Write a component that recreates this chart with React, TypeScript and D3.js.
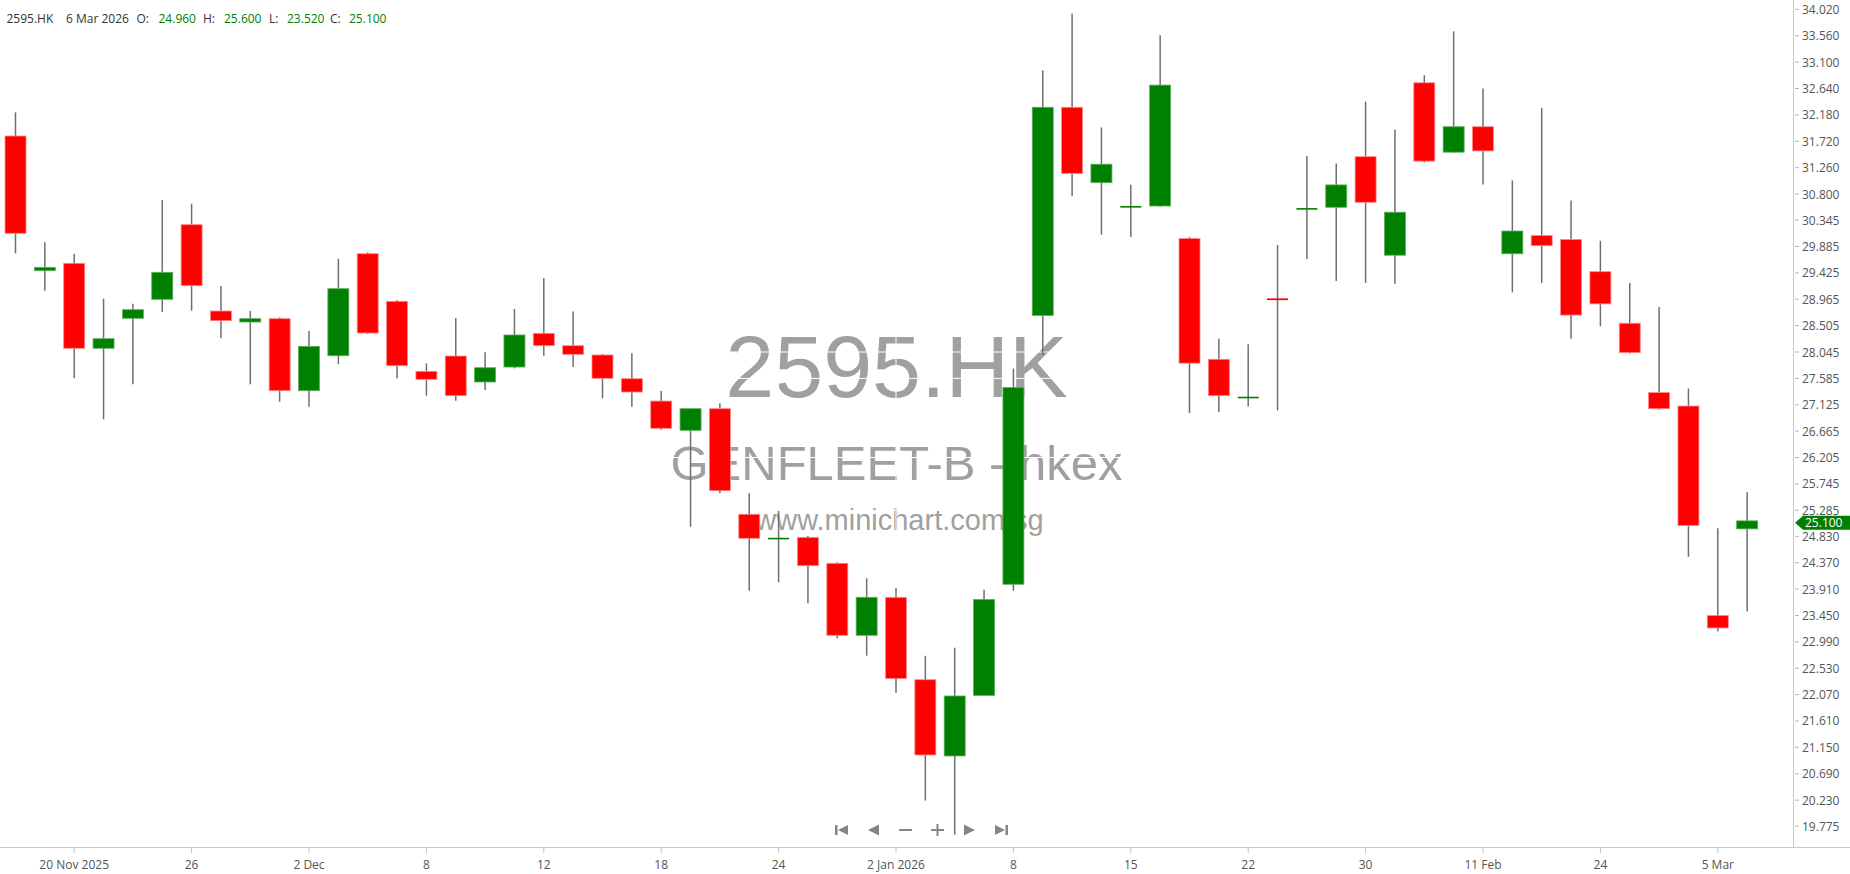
import React from "react";
import * as d3 from "d3";

const W = 1850;
const H = 874;

// OHLC per bar (index 0..59)
const opens = [
  31.812, 29.463, 29.592, 28.11, 28.633, 28.964, 30.265, 28.76, 28.568, 28.626,
  27.37, 27.98, 29.759, 28.929, 27.708, 27.975, 27.522, 27.783, 28.371, 28.155,
  27.993, 27.579, 27.19, 26.679, 27.056, 25.215, 24.795, 24.813, 24.36, 23.104,
  23.767, 22.33, 21.0, 22.056, 23.994, 28.683, 32.313, 30.998, 30.58, 30.591,
  30.024, 27.918, 27.255, 28.98, 30.545, 30.569, 31.451, 29.733, 32.74, 31.53,
  31.974, 29.758, 30.077, 30.007, 29.446, 28.547, 27.337, 27.103, 23.45, 24.96,
];
const highs = [
  32.225, 29.958, 29.759, 28.975, 28.887, 30.696, 30.631, 29.196, 28.76, 28.65,
  28.411, 29.672, 29.784, 28.952, 27.848, 28.638, 28.04, 28.795, 29.336, 28.751,
  28.01, 28.022, 27.365, 27.06, 27.15, 25.581, 25.272, 24.836, 24.377, 24.098,
  23.929, 22.747, 22.888, 23.9, 27.756, 32.954, 33.947, 31.962, 30.961, 33.57,
  30.052, 28.275, 28.181, 29.911, 31.462, 31.334, 32.412, 31.927, 32.872, 33.638,
  32.639, 31.038, 32.302, 30.687, 29.984, 29.25, 28.828, 27.409, 24.972, 25.6,
];
const lows = [
  29.766, 29.114, 27.586, 26.871, 27.482, 28.743, 28.765, 28.284, 27.482, 27.178,
  27.091, 27.831, 28.36, 27.586, 27.283, 27.196, 27.382, 27.76, 27.98, 27.783,
  27.238, 27.091, 26.685, 24.998, 25.581, 23.882, 24.029, 23.662, 23.052, 22.749,
  22.103, 20.223, 19.627, 22.04, 23.88, 27.993, 30.762, 30.091, 30.052, 30.58,
  26.981, 27.0, 27.095, 27.028, 29.665, 29.282, 29.25, 29.235, 31.35, 31.52,
  30.968, 29.086, 29.25, 28.274, 28.493, 28.02, 27.04, 24.472, 23.176, 23.52,
];
const closes = [
  30.115, 29.522, 28.11, 28.277, 28.783, 29.435, 29.201, 28.591, 28.626, 27.37,
  28.144, 29.149, 28.376, 27.806, 27.569, 27.283, 27.771, 28.342, 28.155, 28.005,
  27.586, 27.347, 26.714, 27.056, 25.626, 24.796, 24.805, 24.318, 23.104, 23.767,
  22.349, 21.017, 22.046, 23.729, 27.426, 32.313, 31.16, 31.32, 30.591, 32.7,
  27.851, 27.283, 27.265, 28.95, 30.555, 30.959, 30.656, 30.483, 31.374, 31.974,
  31.552, 30.155, 29.899, 28.689, 28.884, 28.033, 27.056, 25.019, 23.232, 25.1,
];

const yTickLabels = [
  "34.020", "33.560", "33.100", "32.640", "32.180", "31.720", "31.260", "30.800",
  "30.345", "29.885", "29.425", "28.965", "28.505", "28.045", "27.585", "27.125",
  "26.665", "26.205", "25.745", "25.285", "24.830", "24.370", "23.910", "23.450",
  "22.990", "22.530", "22.070", "21.610", "21.150", "20.690", "20.230", "19.775",
];

const xTickIndex = [2, 6, 10, 14, 18, 22, 26, 30, 34, 38, 42, 46, 50, 54, 58];
const xTickLabels = [
  "20 Nov 2025", "26", "2 Dec", "8", "12", "18", "24", "2 Jan 2026",
  "8", "15", "22", "30", "11 Feb", "24", "5 Mar",
];

const symbol = "2595.HK";
const fullName = "GENFLEET-B - hkex";
const site = "www.minichart.com.sg";
const lastDate = "6 Mar 2026";

const UP = "#008000";
const DOWN = "#ff0000";
const FONT = "'Open Sans', 'Noto Sans', sans-serif";

export default function App() {
  const n = opens.length;
  const plotRight = 1793;
  const axisY = 847;
  const x = d3.scaleLinear().domain([0, n - 1]).range([15.5, 15.5 + (n - 1) * 29.35]);
  const y = d3.scaleLinear().domain([34.02, 19.775]).range([9.4, 826.2]);
  const bodyW = 21;
  const cx = plotRight / 2;

  const last = n - 1;
  const lastUp = closes[last] >= opens[last];
  const lastY = y(closes[last]) + 2;

  const navY = 830;
  const navColor = "#858585";

  const header: [string, number, boolean][] = [
    [symbol, 6.5, false],
    [lastDate, 66, false],
    ["O:", 136.5, false],
    [opens[last].toFixed(3), 158.5, true],
    ["H:", 203, false],
    [highs[last].toFixed(3), 224, true],
    ["L:", 269, false],
    [lows[last].toFixed(3), 287, true],
    ["C:", 330, false],
    [closes[last].toFixed(3), 349, true],
  ];

  return (
    <svg
      width={W}
      height={H}
      style={{ position: "absolute", left: 0, top: 0, display: "block", background: "#fff" }}
    >
      <rect x={0} y={0} width={W} height={H} fill="#fff" />

      {/* watermark */}
      <g fill="#a0a0a0" fontFamily="'Liberation Sans', Arial, sans-serif" textAnchor="middle">
        <text x={cx} y={396.5} fontSize={88}>{symbol}</text>
        <text x={cx} y={480} fontSize={49}>{fullName}</text>
        <text x={cx + 3} y={530} fontSize={29}>{site}</text>
      </g>

      {/* white grid over watermark */}
      <g stroke="#ffffff" strokeWidth={1}>
        {yTickLabels.map((t, i) => (
          <line key={"gy" + i} x1={0} x2={plotRight} y1={y(+t)} y2={y(+t)} />
        ))}
        {xTickIndex.map((ti, i) => (
          <line key={"gx" + i} x1={x(ti)} x2={x(ti)} y1={0} y2={axisY} />
        ))}
      </g>

      {/* candles */}
      <g>
        {opens.map((o, i) => {
          const c = closes[i];
          const up = c >= o;
          const col = up ? UP : DOWN;
          const top = y(Math.max(o, c));
          const bot = y(Math.min(o, c));
          const h = Math.max(bot - top, 1.6);
          return (
            <g key={"c" + i}>
              <line
                x1={x(i)}
                x2={x(i)}
                y1={y(highs[i])}
                y2={y(lows[i])}
                stroke="#6f6f6f"
                strokeWidth={1.5}
              />
              <rect
                x={x(i) - bodyW / 2}
                y={top}
                width={bodyW}
                height={h}
                fill={col}
                stroke={up ? "#5fae5f" : "#ff8a8a"}
                strokeWidth={h > 3 ? 0.8 : 0}
              />
            </g>
          );
        })}
      </g>

      {/* axes */}
      <line x1={plotRight + 0.5} x2={plotRight + 0.5} y1={0} y2={axisY} stroke="#c8c8c8" strokeWidth={1} />
      <line x1={0} x2={W} y1={axisY + 0.5} y2={axisY + 0.5} stroke="#c8c8c8" strokeWidth={1} />

      {/* y ticks */}
      <g fontFamily={FONT} fontSize={12} fill="#555">
        {yTickLabels.map((t, i) => (
          <g key={"yt" + i}>
            <line x1={plotRight + 2} x2={plotRight + 6} y1={y(+t)} y2={y(+t)} stroke="#b5b5b5" />
            <text x={plotRight + 9} y={y(+t)} dominantBaseline="central">{t}</text>
          </g>
        ))}
      </g>

      {/* x ticks */}
      <g fontFamily={FONT} fontSize={12} fill="#555" textAnchor="middle">
        {xTickIndex.map((ti, i) => (
          <g key={"xt" + i}>
            <line x1={x(ti)} x2={x(ti)} y1={axisY + 1} y2={axisY + 6} stroke="#c0c0c0" />
            <text x={x(ti)} y={868.5}>{xTickLabels[i]}</text>
          </g>
        ))}
      </g>

      {/* last price tag */}
      <g>
        <path
          d={`M${plotRight + 2},${lastY} L${plotRight + 10},${lastY - 7} L${W},${lastY - 7} L${W},${lastY + 7} L${plotRight + 10},${lastY + 7} Z`}
          fill={lastUp ? UP : DOWN}
        />
        <text
          x={plotRight + 12}
          y={lastY}
          dominantBaseline="central"
          fontFamily={FONT}
          fontSize={12}
          fill="#fff"
        >
          {closes[last].toFixed(3)}
        </text>
      </g>

      {/* header */}
      <g fontFamily={FONT} fontSize={12}>
        {header.map(([t, hx, val], i) => (
          <text key={"h" + i} x={hx} y={22.5} fill={val ? (lastUp ? UP : DOWN) : "#333"}>
            {t}
          </text>
        ))}
      </g>

      {/* navigation buttons */}
      <g fill={navColor} stroke="none">
        {/* |< */}
        <rect x={835} y={navY - 5} width={2.5} height={10} />
        <path d={`M838,${navY} L848,${navY - 5} L848,${navY + 5} Z`} />
        {/* < */}
        <path d={`M868,${navY} L879,${navY - 5.5} L879,${navY + 5.5} Z`} />
        {/* - */}
        <rect x={899} y={navY - 1} width={13} height={2} />
        {/* + */}
        <rect x={931} y={navY - 1} width={13} height={2} />
        <rect x={936.5} y={navY - 6} width={2} height={12} />
        {/* > */}
        <path d={`M964,${navY - 5.5} L975,${navY} L964,${navY + 5.5} Z`} />
        {/* >| */}
        <path d={`M995,${navY - 5} L1005,${navY} L995,${navY + 5} Z`} />
        <rect x={1005.5} y={navY - 5} width={2.5} height={10} />
      </g>
    </svg>
  );
}
